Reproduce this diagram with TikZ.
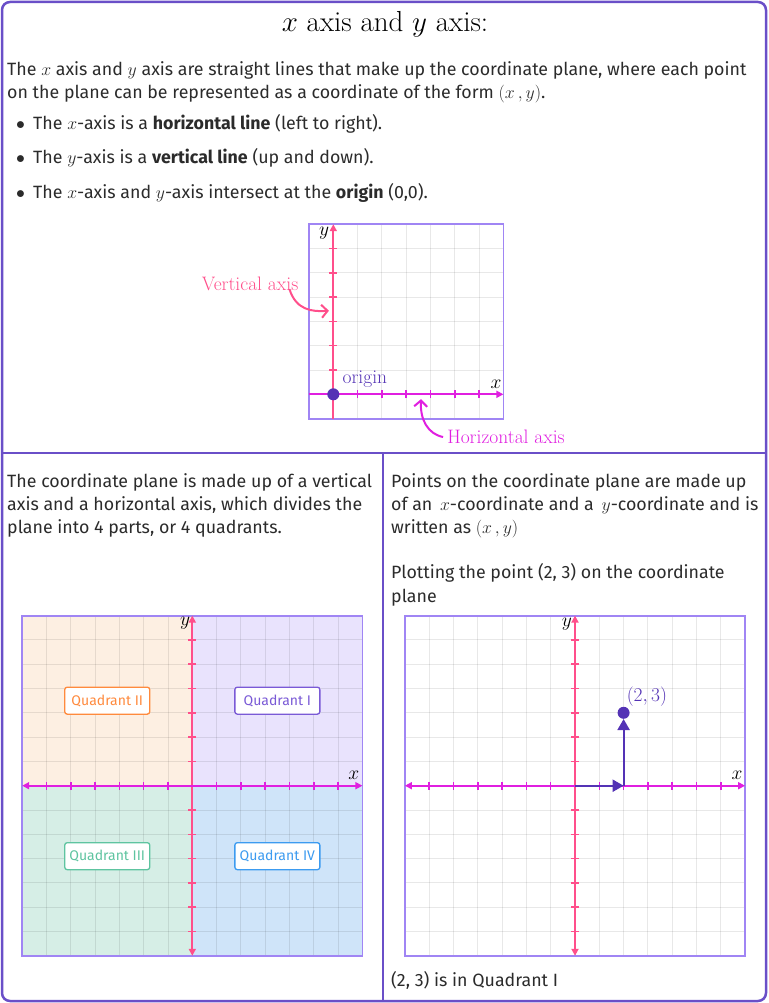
\RequirePackage{fix-cm}
\documentclass[tikz,border=0pt]{standalone}
\usepackage{fontspec}
\newfontfamily\bodyfont{Fira Sans}
\usetikzlibrary{arrows.meta,positioning}

\definecolor{framepurple}{HTML}{6A4FC8}
\definecolor{boxpurple}{HTML}{A085F4}
\definecolor{axispink}{HTML}{FF4F8B}
\definecolor{axismagenta}{HTML}{E01FE0}
\definecolor{dotpurple}{HTML}{5433B5}
\definecolor{textgray}{HTML}{2B2B2B}
\definecolor{quadone}{HTML}{E9E3FD}
\definecolor{quadtwo}{HTML}{FDEFE2}
\definecolor{quadthree}{HTML}{D6EEE6}
\definecolor{quadfour}{HTML}{CFE4F9}
\definecolor{labone}{HTML}{7A5AD6}
\definecolor{labtwo}{HTML}{FF8A3D}
\definecolor{labthree}{HTML}{5EC4A0}
\definecolor{labfour}{HTML}{3C9BF0}

\tikzset{
  outerframe/.style={framepurple, line width=2.5pt},
  gridline/.style={black, opacity=0.09, line width=1pt},
  graphbox/.style={boxpurple, line width=1.8pt},
  yaxis/.style={axispink, line width=1.8pt},
  xaxis/.style={axismagenta, line width=1.8pt},
  axistip/.style={-{Triangle[length=7pt,width=7pt]}},
  bothtips/.style={{Triangle[length=7pt,width=7pt]}-{Triangle[length=7pt,width=7pt]}},
  tickmark/.style={line width=1.5pt},
  bodytext/.style={font=\bodyfont\fontsize{17.8}{21}\selectfont, text=textgray, inner sep=0pt, anchor=base west},
  seriflabel/.style={font=\fontsize{19.5}{22}\selectfont, inner sep=0pt},
  quadlabel/.style={fill=white, rounded corners=2.5pt, line width=1.3pt, minimum width=85pt, minimum height=27pt, inner sep=0pt, font=\bodyfont\fontsize{14}{16}\selectfont},
  callout/.style={line width=2pt, -{Straight Barb[length=6pt,width=13pt]}},
  ptarrow/.style={dotpurple, line width=2.2pt, -{Triangle[length=11pt,width=12pt]}},
}

\begin{document}
\begin{tikzpicture}[x=1pt,y=-1pt]
  \useasboundingbox (0,0) rectangle (768,1003);

  % Frame
  \draw[outerframe, rounded corners=8pt] (2,2) rectangle (766,1001);
  \draw[outerframe] (2,453) -- (766,453);
  \draw[outerframe] (383,453) -- (383,1001);

  % Title and text
  \node[anchor=base, inner sep=0pt] (title) at (385,32) {\fontsize{29}{33}\selectfont $x$ axis and $y$ axis:};
  \node[bodytext] (introa) at (7,75.5) {The $x$ axis and $y$ axis are straight lines that make up the coordinate plane, where each point};
  \node[bodytext] (introb) at (7,98.5) {on the plane can be represented as a coordinate of the form $(x\,,y)$.};
  \node[bodytext] (bulleta) at (16,129.5) {\makebox[17pt][l]{$\bullet$}The $x$-axis is a \textbf{horizontal line} (left to right).};
  \node[bodytext] (bulletb) at (16,163.5) {\makebox[17pt][l]{$\bullet$}The $y$-axis is a \textbf{vertical line} (up and down).};
  \node[bodytext] (bulletc) at (16,198.5) {\makebox[17pt][l]{$\bullet$}The $x$-axis and $y$-axis intersect at the \textbf{origin} (0,0).};

  \node[bodytext] (lefta) at (7,487.5) {The coordinate plane is made up of a vertical};
  \node[bodytext] (leftb) at (7,510.5) {axis and a horizontal axis, which divides the};
  \node[bodytext] (leftc) at (7,533.5) {plane into 4 parts, or 4 quadrants.};
  \node[bodytext] (righta) at (391,487.5) {Points on the coordinate plane are made up};
  \node[bodytext] (rightb) at (391,510.5) {of an \,$x$-coordinate and a \,$y$-coordinate and is};
  \node[bodytext] (rightc) at (391,533.5) {written as $(x\,,y)$};
  \node[bodytext] (rightd) at (391,578.5) {Plotting the point (2, 3) on the coordinate};
  \node[bodytext] (righte) at (391,602) {plane};
  \node[bodytext] (rightf) at (391,986.5) {(2, 3) is in Quadrant I};

  % Top graph
  \begin{scope}[shift={(333.3,394.3)},x=24.3pt,y=24.3pt]
    \foreach \i in {0,...,6} {
      \draw[gridline] (\i,-1) -- (\i,7);
      \draw[gridline] (-1,\i) -- (7,\i);
    }
    \draw[graphbox] (-1,-1) rectangle (7,7);
    \foreach \i in {1,...,6} {
      \draw[tickmark, axismagenta] (\i,-0.17) -- (\i,0.17);
      \draw[tickmark, axispink] (-0.17,\i) -- (0.17,\i);
    }
    \draw[yaxis, axistip] (0,-1) -- (0,7);
    \draw[xaxis, axistip] (-1,0) -- (7,0);
    \node[circle, fill=dotpurple, inner sep=0pt, minimum size=12pt] (origin) at (0,0) {};
    \node[seriflabel, text=dotpurple] (originlab) at (1.3,0.62) {origin};
    \node[seriflabel] (topx) at (6.7,0.42) {$x$};
    \node[seriflabel] (topy) at (-0.38,6.64) {$y$};
    \coordinate (vtip) at (-0.18,3.44);
    \coordinate (htip) at (3.61,-0.2);
  \end{scope}

  % Axis callouts
  \node[seriflabel, text=axispink] (vlab) at (250,284) {Vertical axis};
  \node[seriflabel, text=axismagenta] (hlab) at (506,437) {Horizontal axis};
  \draw[callout, axispink] ([xshift=-9pt,yshift=2pt]vlab.south east) .. controls (296,310) and (312,312) .. (vtip);
  \draw[callout, axismagenta] ([xshift=-4pt]hlab.west) .. controls (428,434) and (420,420) .. (htip);

  % Quadrants graph
  \begin{scope}[shift={(192.3,785.7)},x=24.3pt,y=24.3pt]
    \fill[quadtwo] (-7,0) rectangle (0,7);
    \fill[quadone] (0,0) rectangle (7,7);
    \fill[quadthree] (-7,-7) rectangle (0,0);
    \fill[quadfour] (0,-7) rectangle (7,0);
    \foreach \i in {-6,...,6} {
      \draw[gridline] (\i,-7) -- (\i,7);
      \draw[gridline] (-7,\i) -- (7,\i);
    }
    \draw[graphbox] (-7,-7) rectangle (7,7);
    \foreach \i in {-6,...,-1,1,2,...,6} {
      \draw[tickmark, axismagenta] (\i,-0.17) -- (\i,0.17);
      \draw[tickmark, axispink] (-0.17,\i) -- (0.17,\i);
    }
    \draw[yaxis, bothtips] (0,-7) -- (0,7);
    \draw[xaxis, bothtips] (-7,0) -- (7,0);
    \node[seriflabel] (quadx) at (6.65,0.44) {$x$};
    \node[seriflabel] (quady) at (-0.3,6.7) {$y$};
    \node[quadlabel, draw=labtwo, text=labtwo] (qtwo) at (-3.5,3.5) {Quadrant II};
    \node[quadlabel, draw=labone, text=labone] (qone) at (3.5,3.5) {Quadrant I};
    \node[quadlabel, draw=labthree, text=labthree] (qthree) at (-3.5,-2.9) {Quadrant III};
    \node[quadlabel, draw=labfour, text=labfour] (qfour) at (3.5,-2.9) {Quadrant IV};
  \end{scope}

  % Plotting graph
  \begin{scope}[shift={(575,785.7)},x=24.3pt,y=24.3pt]
    \foreach \i in {-6,...,6} {
      \draw[gridline] (\i,-7) -- (\i,7);
      \draw[gridline] (-7,\i) -- (7,\i);
    }
    \draw[graphbox] (-7,-7) rectangle (7,7);
    \foreach \i in {-6,...,-1,1,2,...,6} {
      \draw[tickmark, axismagenta] (\i,-0.17) -- (\i,0.17);
      \draw[tickmark, axispink] (-0.17,\i) -- (0.17,\i);
    }
    \draw[yaxis, bothtips] (0,-7) -- (0,7);
    \draw[xaxis, bothtips] (-7,0) -- (7,0);
    \node[seriflabel] (plotx) at (6.67,0.44) {$x$};
    \node[seriflabel] (ploty) at (-0.33,6.66) {$y$};
    \coordinate (zero) at (0,0);
    \coordinate (twox) at (2,0);
    \node[circle, fill=dotpurple, inner sep=0pt, minimum size=12pt] (point) at (2,3) {};
    \node[seriflabel, text=dotpurple] (pointlab) at (2.96,3.65) {$(2,3)$};
    \draw[ptarrow] (zero) -- (twox);
    \draw[ptarrow] (twox) -- (point.south);
  \end{scope}
\end{tikzpicture}
\end{document}
